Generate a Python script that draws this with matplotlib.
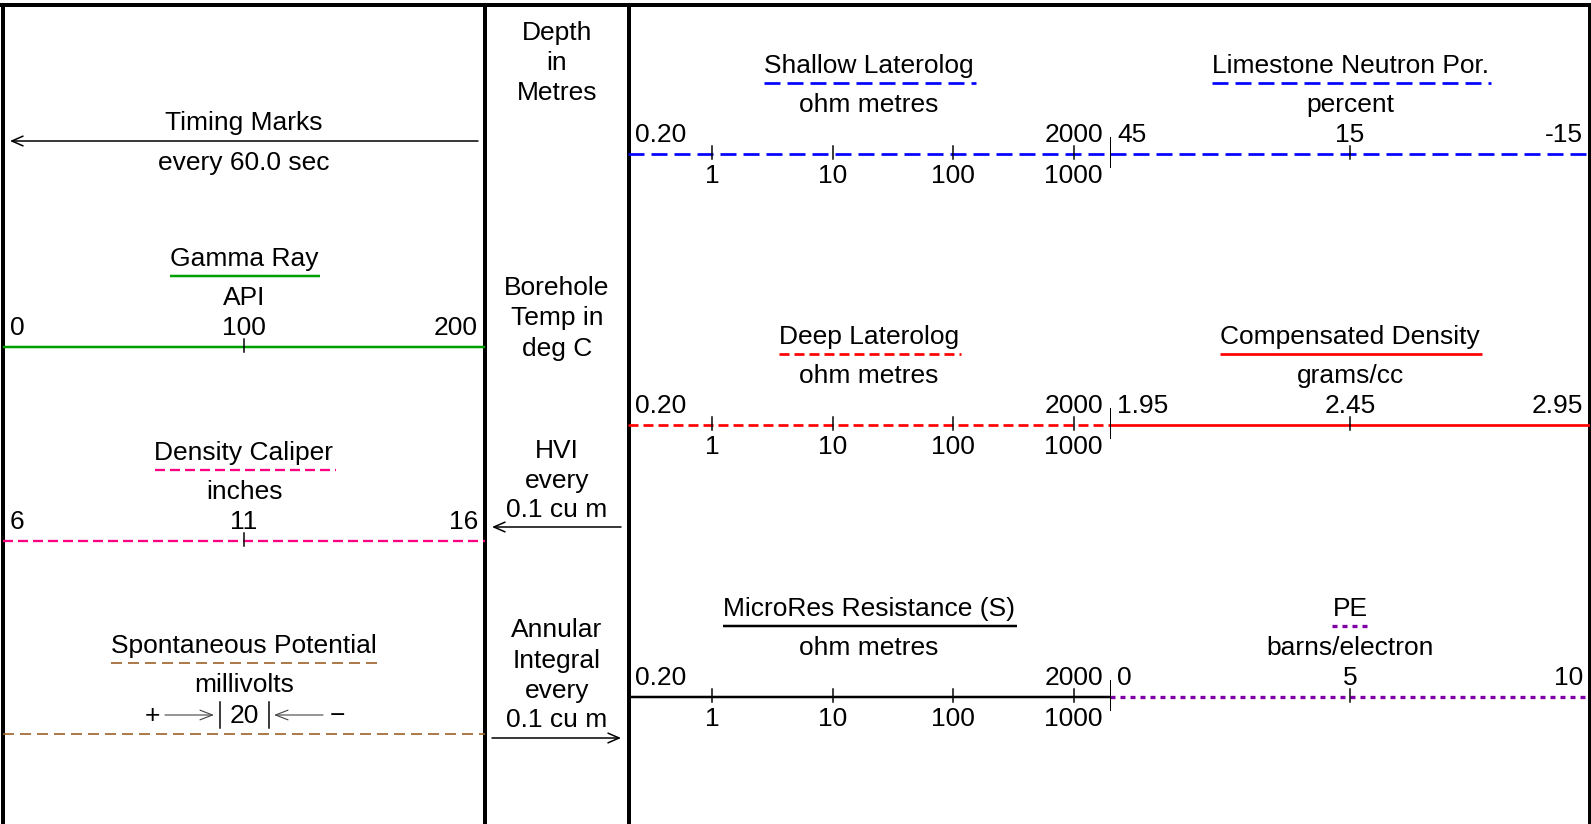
import matplotlib
matplotlib.use('Agg')
import matplotlib.pyplot as plt
from matplotlib.transforms import offset_copy, blended_transform_factory

plt.rcParams['font.family'] = ['Liberation Sans', 'DejaVu Sans']
plt.rcParams['font.size'] = 19
plt.rcParams['lines.scale_dashes'] = False

W, H = 1591, 824
PT = 0.72  # points per pixel at dpi 100

# ---- header data ----
timing_label = ['Timing Marks', 'every 60.0 sec']

center_labels = [['Depth', 'in', 'Metres'],
                 ['Borehole', 'Temp in', 'deg C'],
                 ['HVI', 'every', '0.1 cu m'],
                 ['Annular', 'Integral', 'every', '0.1 cu m']]

# track 1 (linear scales)
t1_names = ['Gamma Ray', 'Density Caliper']
t1_units = ['API', 'inches']
t1_min = [0, 6]
t1_max = [200, 16]
t1_mid = [100, 11]
t1_labels = [['0', '100', '200'], ['6', '11', '16']]
t1_colors = ['#00A000', '#FF0080']
t1_widths = [2.5, 2.3]
t1_dashes = [None, (10, 5)]

sp_name = 'Spontaneous Potential'
sp_unit = 'millivolts'
sp_span = '20'
sp_color = '#A0652D'

# track 3 (log resistivity)
res_names = ['Shallow Laterolog', 'Deep Laterolog', 'MicroRes Resistance (S)']
res_units = ['ohm metres', 'ohm metres', 'ohm metres']
res_min, res_max = 0.2, 2000
res_ends = ['0.20', '2000']
res_ticks = [1, 10, 100, 1000]
res_colors = ['#0000FF', '#FF0000', 'black']
res_widths = [2.7, 2.7, 2.5]
res_dashes = [(16, 7), (10, 5), None]

# track 4 (linear scales)
t4_names = ['Limestone Neutron Por.', 'Compensated Density', 'PE']
t4_units = ['percent', 'grams/cc', 'barns/electron']
t4_left = [45, 1.95, 0]
t4_right = [-15, 2.95, 10]
t4_mid = [15, 2.45, 5]
t4_labels = [['45', '15', '-15'], ['1.95', '2.45', '2.95'], ['0', '5', '10']]
t4_colors = ['#0000FF', '#FF0000', '#8000A8']
t4_widths = [2.7, 2.7, 3.3]
t4_dashes = [(16, 7), None, (5, 5)]

# ---- layout (pixels) ----
X_L, X_D1, X_D2, X_M, X_R = 3, 485, 629, 1110, 1589
TOP = 5
t1_rows = [347, 541]
sp_row = 734
right_rows = [154, 425, 697]
center_base = [[40, 70, 100], [295, 325, 356], [458, 488, 517], [637, 668, 698, 727]]

fig = plt.figure(figsize=(W / 100, H / 100), dpi=100)
frame = fig.add_axes([0, 0, 1, 1])
frame.set_xlim(0, W)
frame.set_ylim(H, 0)
frame.axis('off')

titles = []


def style(dashes):
    if dashes is None:
        return dict(linestyle='-')
    return dict(linestyle=(0, tuple(d * PT for d in dashes)))


def make_track(x0, x1, lo, hi, log=False):
    a = fig.add_axes([x0 / W, 0, (x1 - x0) / W, 1])
    if log:
        a.set_xscale('log')
    a.set_xlim(lo, hi)
    a.set_ylim(H, 0)
    a.axis('off')
    a.patch.set_visible(False)
    return a


def curve(a, y, name, unit, lo, hi, color, lw, dashes):
    mid = blended_transform_factory(a.transAxes, a.transData)
    t = a.text(0.5, y - 81, name, transform=mid, ha='center', va='baseline')
    a.text(0.5, y - 42, unit, transform=mid, ha='center', va='baseline')
    a.plot([lo, hi], [y, y], color=color, lw=lw * PT,
           solid_capstyle='butt', dash_capstyle='butt', **style(dashes))
    titles.append((t, y - 71, color, lw, dashes))


def scale_labels(a, y, lo, hi, mid, labels):
    a.text(lo, y - 12, labels[0], ha='left', va='baseline',
           transform=offset_copy(a.transData, fig=fig, x=7, y=0, units='dots'))
    a.text(hi, y - 12, labels[-1], ha='right', va='baseline',
           transform=offset_copy(a.transData, fig=fig, x=-7, y=0, units='dots'))
    if mid is not None:
        a.text(mid, y - 12, labels[1], ha='center', va='baseline')


def tick(a, x, y):
    a.plot([x, x], [y - 8, y + 5], color='black', lw=1.5 * PT)


# track 1
for i in range(len(t1_names)):
    a = make_track(X_L, X_D1, t1_min[i], t1_max[i])
    y = t1_rows[i]
    curve(a, y, t1_names[i], t1_units[i], t1_min[i], t1_max[i],
          t1_colors[i], t1_widths[i], t1_dashes[i])
    scale_labels(a, y, t1_min[i], t1_max[i], t1_mid[i], t1_labels[i])
    tick(a, t1_mid[i], y)

# spontaneous potential
a = make_track(X_L, X_D1, 0, 1)
curve(a, sp_row, sp_name, sp_unit, 0, 1, sp_color, 1.7, (11, 6))
cx = (X_L + X_D1) / 2
ys = sp_row - 11
frame.text(cx, ys, sp_span, ha='center', va='baseline')
frame.text(cx - 92, ys, '+', ha='center', va='baseline')
frame.text(cx + 93, ys, '\u2212', ha='center', va='baseline')
for s in (-1, 1):
    frame.plot([cx + s * 24.5, cx + s * 24.5], [ys - 21, ys + 5], color='black', lw=1.5 * PT)
    frame.annotate('', xy=(cx + s * 30, ys - 8), xytext=(cx + s * 79, ys - 8),
                   arrowprops=dict(arrowstyle='->,head_length=0.9,head_width=0.35',
                                   mutation_scale=10, lw=0.8, color='#444444',
                                   shrinkA=0, shrinkB=0))

# timing marks
frame.text(cx, 130, timing_label[0], ha='center', va='baseline')
frame.text(cx, 170, timing_label[1], ha='center', va='baseline')
frame.annotate('', xy=(10, 141), xytext=(478, 141),
               arrowprops=dict(arrowstyle='->,head_length=0.8,head_width=0.35',
                               mutation_scale=10, lw=1.1, color='black',
                               shrinkA=0, shrinkB=0))

# depth track
dx = (X_D1 + X_D2) / 2
for lines, bases in zip(center_labels, center_base):
    for s, b in zip(lines, bases):
        frame.text(dx, b, s, ha='center', va='baseline')
for y, x0, x1 in [(527, 621, 492), (738, 492, 621)]:
    frame.annotate('', xy=(x1, y), xytext=(x0, y),
                   arrowprops=dict(arrowstyle='->,head_length=0.8,head_width=0.35',
                                   mutation_scale=10, lw=1.1, color='black',
                                   shrinkA=0, shrinkB=0))

# track 3 resistivity (log)
for i in range(len(res_names)):
    a = make_track(X_D2 - 1, X_M, res_min, res_max, log=True)
    y = right_rows[i]
    curve(a, y, res_names[i], res_units[i], res_min, res_max,
          res_colors[i], res_widths[i], res_dashes[i])
    scale_labels(a, y, res_min, res_max, None, res_ends)
    for v in res_ticks:
        tick(a, v, y)
        a.text(v, y + 29, str(v), ha='center', va='baseline')

# track 4
for i in range(len(t4_names)):
    a = make_track(X_M, X_R + 1, t4_left[i], t4_right[i])
    y = right_rows[i]
    curve(a, y, t4_names[i], t4_units[i], t4_left[i], t4_right[i],
          t4_colors[i], t4_widths[i], t4_dashes[i])
    scale_labels(a, y, t4_left[i], t4_right[i], t4_mid[i], t4_labels[i])
    tick(a, t4_mid[i], y)
    a.plot([t4_left[i], t4_left[i]], [y - 16, y + 13], color='black', lw=2 * PT)

# frame lines
frame.plot([0, W], [TOP, TOP], color='black', lw=4 * PT, solid_capstyle='butt')
for x, w in [(X_L, 4), (X_D1, 4), (X_D2, 4), (X_R, 3)]:
    frame.plot([x, x], [TOP, H], color='black', lw=w * PT, solid_capstyle='butt')

# underlines below curve names, sized from the rendered text
fig.canvas.draw()
r = fig.canvas.get_renderer()
for t, uy, color, lw, dashes in titles:
    bb = t.get_window_extent(r)
    frame.plot([bb.x0, bb.x1 + 2], [uy, uy], color=color, lw=lw * PT,
               solid_capstyle='butt', dash_capstyle='butt', **style(dashes))

fig.savefig('out.png', dpi=100)
